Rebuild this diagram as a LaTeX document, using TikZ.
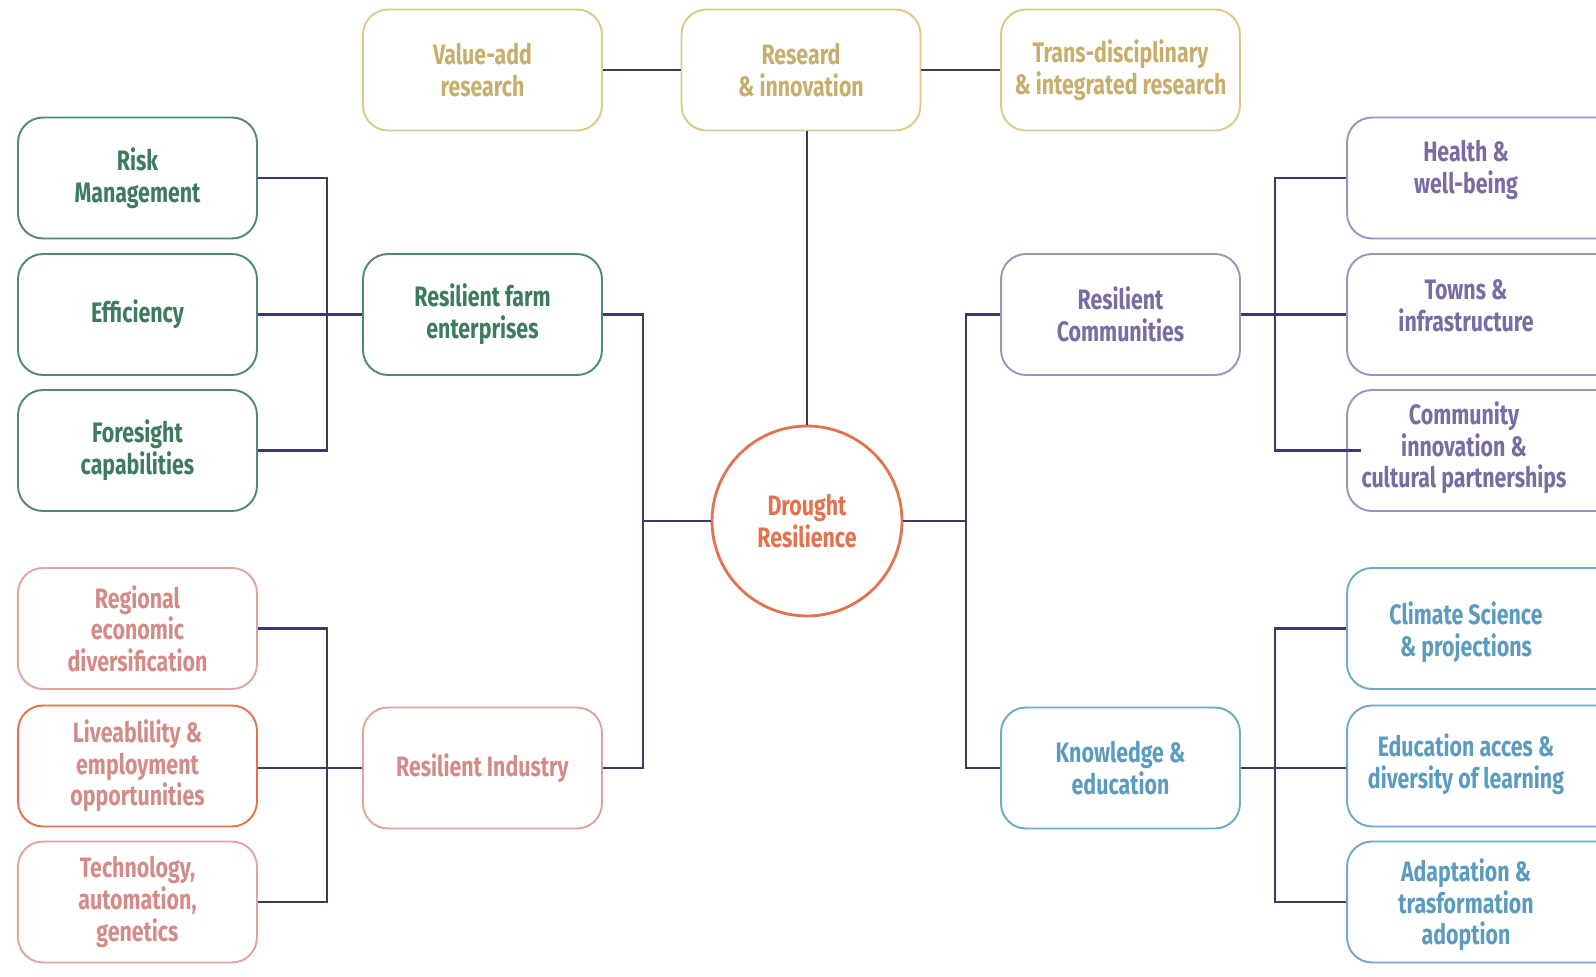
\documentclass[tikz,border=0pt]{standalone}
\usepackage{fontspec}
\setmainfont{Fira Sans}[FakeStretch=0.76]
\definecolor{goldB}{HTML}{DACB8C}
\definecolor{goldT}{HTML}{C8AE6C}
\definecolor{greenB}{HTML}{4F8C6C}
\definecolor{greenT}{HTML}{3E7A5C}
\definecolor{purpB}{HTML}{9E92C4}
\definecolor{purpT}{HTML}{7B6BA3}
\definecolor{pinkB}{HTML}{E3A3A0}
\definecolor{pinkT}{HTML}{D48B88}
\definecolor{oranB}{HTML}{E2734F}
\definecolor{blueB}{HTML}{70A9C9}
\definecolor{blueT}{HTML}{5C9BC0}
\definecolor{lineC}{HTML}{3D3A6B}
\tikzset{
  txt/.style={align=center, inner sep=1pt, font=\fontsize{16}{18}\selectfont\bfseries},
  box/.style={txt, draw, rounded corners=0.5cm, line width=1.1pt, minimum width=4.78cm,
    minimum height=2.42cm},
  widebox/.style={draw, rounded corners=0.5cm, line width=1.1pt, minimum width=5.6cm,
    minimum height=2.42cm, inner sep=0pt},
  goldbox/.style={box, draw=goldB, text=goldT},
  greenbox/.style={box, draw=greenB, text=greenT},
  purpbox/.style={box, draw=purpB, text=purpT},
  pinkbox/.style={box, draw=pinkB, text=pinkT},
  bluebox/.style={box, draw=blueB, text=blueT},
  purpwide/.style={widebox, draw=purpB},
  bluewide/.style={widebox, draw=blueB},
  purptxt/.style={txt, text=purpT},
  bluetxt/.style={txt, text=blueT},
  conn/.style={draw=lineC, line width=1.4pt}
}
\begin{document}
\begin{tikzpicture}[x=0.02cm, y=-0.02cm]
\path[use as bounding box, fill=white] (0,0) rectangle (1596,977);
% coordinates for trunks
\coordinate (xL) at (327,0);
\coordinate (xM) at (643,0);
\coordinate (xR) at (966,0);
\coordinate (xRR) at (1275,0);
% top row
\node[goldbox] (va) at (482.5,70) {Value-add\\research};
\node[goldbox] (ri) at (801,70) {Researd\\\& innovation};
\node[goldbox] (td) at (1120.5,70) {Trans-disciplinary\\\& integrated research};
% centre
\node[circle, draw=oranB, line width=1.6pt, minimum size=3.8cm, text=oranB,
  align=center, font=\fontsize{16}{18}\selectfont\bfseries] (dr) at (807,521) {Drought\\Resilience};
% left
\node[greenbox] (risk) at (137.5,178) {Risk\\Management};
\node[greenbox] (eff) at (137.5,314.5) {Efficiency};
\node[greenbox] (fore) at (137.5,450.5) {Foresight\\capabilities};
\node[greenbox] (farm) at (482.5,314.5) {Resilient farm\\enterprises};
\node[pinkbox] (reg) at (137.5,628.5) {Regional\\economic\\diversification};
\node[box, draw=oranB, text=pinkT] (liv) at (137.5,766) {Liveablility \&\\employment\\opportunities};
\node[pinkbox] (tech) at (137.5,902) {Technology,\\automation,\\genetics};
\node[pinkbox] (ind) at (482.5,768) {Resilient Industry};
% right middle
\node[purpbox] (com) at (1120.5,314.5) {Resilient\\Communities};
\node[bluebox] (know) at (1120.5,768) {Knowledge \&\\education};
% right column (boxes run past the right edge)
\node[purpwide] (health) at (1487,178) {};
\node[purpwide] (towns) at (1487,314.5) {};
\node[purpwide] (cip) at (1487,450.5) {};
\node[bluewide] (clim) at (1487,628.5) {};
\node[bluewide] (edu) at (1487,766) {};
\node[bluewide] (adapt) at (1487,902) {};
\node[purptxt] (healtht) at (1466,170) {Health \&\\well-being};
\node[purptxt] (townst) at (1466,306) {Towns \&\\infrastructure};
\node[purptxt] (cipt) at (1464,448) {Community\\innovation \&\\cultural partnerships};
\node[bluetxt] (climt) at (1466,632) {Climate Science\\\& projections};
\node[bluetxt] (edut) at (1466,764) {Education acces \&\\diversity of learning};
\node[bluetxt] (adaptt) at (1466,905) {Adaptation \&\\trasformation\\adoption};
% connectors top
\draw[conn] (va.east) -- (ri.west);
\draw[conn] (ri.east) -- (td.west);
\draw[conn] (dr.north) -- (dr.north |- ri.south);
% left groups
\draw[conn] (risk.east) -| (xL |- fore.east) -- (fore.east);
\draw[conn] (eff.east) -- (farm.west);
\draw[conn] (reg.east) -| (xL |- tech.east) -- (tech.east);
\draw[conn] (ind.west) -- (ind.west -| liv.east);
\draw[conn] (farm.east) -| (xM |- ind.east) -- (ind.east);
\draw[conn] (dr.west) -- (dr.west -| xM);
% right groups
\draw[conn] (dr.east) -- (dr.east -| xR);
\draw[conn] (com.west) -| (xR |- know.west) -- (know.west);
\draw[conn] (health.west) -| (xRR |- cip.west) -- ([xshift=0.3cm]cip.west);
\draw[conn] (com.east) -- (towns.west);
\draw[conn] (clim.west) -| (xRR |- adapt.west) -- (adapt.west);
\draw[conn] (know.east) -- (know.east -| edu.west);
\end{tikzpicture}
\end{document}
